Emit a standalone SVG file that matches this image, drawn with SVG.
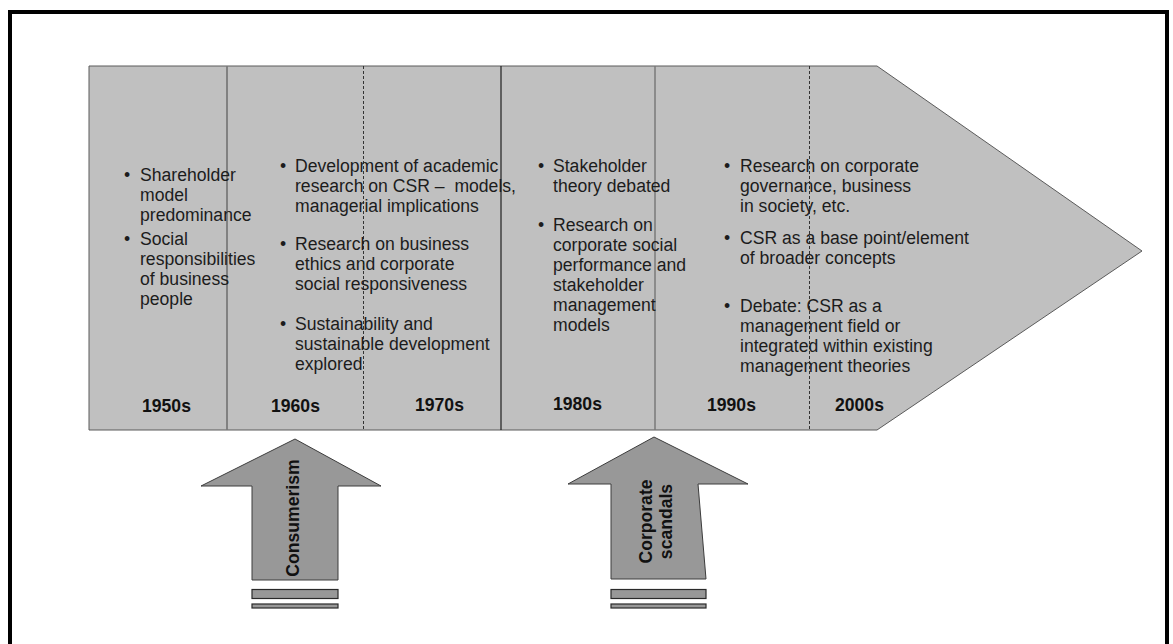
<svg xmlns="http://www.w3.org/2000/svg" width="1173" height="644" viewBox="0 0 1173 644">
<style>
.t{font-family:"Liberation Sans",Arial,sans-serif;font-size:17.6px;fill:#1c1c1c;white-space:pre}
.b{font-family:"Liberation Sans",Arial,sans-serif;font-size:17.6px;font-weight:bold;fill:#111}
.bul{text-anchor:middle}
.arrow{fill:#989898;stroke:#3c3c3c;stroke-width:1}
.bar{fill:#989898;stroke:#2a2a2a;stroke-width:1.2}
.vl{fill:none}
</style>
<rect width="1173" height="644" fill="#fff"/>
<rect x="10" y="12" width="1157" height="660" fill="none" stroke="#000" stroke-width="4"/>

<g id="timeline">
<path d="M89,66 L877,66 L1142,251 L877,430 L89,430 Z" fill="#c0c0c0" stroke="#5a5a5a" stroke-width="1"/>
</g>

<g id="connectors">
<line x1="227" y1="66" x2="227" y2="430" stroke="#7a7a7a" stroke-width="1.8"/>
<line x1="363.5" y1="66" x2="363.5" y2="430" stroke="#333" stroke-width="1" stroke-dasharray="3,2"/>
<line x1="501" y1="66" x2="501" y2="430" stroke="#1e1e1e" stroke-width="1.2"/>
<line x1="655" y1="66" x2="655" y2="430" stroke="#7a7a7a" stroke-width="1.5"/>
<line x1="809.5" y1="66" x2="809.5" y2="430" stroke="#333" stroke-width="1" stroke-dasharray="3,2"/>
</g>

<g id="col1950">
<text class="t bul" x="127" y="181">•</text>
<text class="t" x="140" y="181">Shareholder</text>
<text class="t" x="140" y="201">model</text>
<text class="t" x="140" y="221">predominance</text>
<text class="t bul" x="127" y="245">•</text>
<text class="t" x="140" y="245">Social</text>
<text class="t" x="140" y="265">responsibilities</text>
<text class="t" x="140" y="285">of business</text>
<text class="t" x="140" y="305">people</text>
<text class="b" x="142" y="412">1950s</text>
</g>

<g id="col1960">
<text class="t bul" x="283" y="172">•</text>
<text class="t" x="295" y="172">Development of academic</text>
<text class="t" x="295" y="192">research on CSR –  models,</text>
<text class="t" x="295" y="212">managerial implications</text>
<text class="t bul" x="283" y="250">•</text>
<text class="t" x="295" y="250">Research on business</text>
<text class="t" x="295" y="270">ethics and corporate</text>
<text class="t" x="295" y="290">social responsiveness</text>
<text class="t bul" x="283" y="330">•</text>
<text class="t" x="295" y="330">Sustainability and</text>
<text class="t" x="295" y="350">sustainable development</text>
<text class="t" x="295" y="370">explored</text>
<text class="b" x="271" y="412">1960s</text>
<text class="b" x="415" y="411">1970s</text>
</g>

<g id="col1980">
<text class="t bul" x="541" y="172">•</text>
<text class="t" x="553" y="172">Stakeholder</text>
<text class="t" x="553" y="192">theory debated</text>
<text class="t bul" x="541" y="231">•</text>
<text class="t" x="553" y="231">Research on</text>
<text class="t" x="553" y="251">corporate social</text>
<text class="t" x="553" y="271">performance and</text>
<text class="t" x="553" y="291">stakeholder</text>
<text class="t" x="553" y="311">management</text>
<text class="t" x="553" y="331">models</text>
<text class="b" x="553" y="410">1980s</text>
</g>

<g id="col1990">
<text class="t bul" x="727" y="172">•</text>
<text class="t" x="740" y="172">Research on corporate</text>
<text class="t" x="740" y="192">governance, business</text>
<text class="t" x="740" y="212">in society, etc.</text>
<text class="t bul" x="727" y="243.5">•</text>
<text class="t" x="740" y="243.5">CSR as a base point/element</text>
<text class="t" x="740" y="263.5">of broader concepts</text>
<text class="t bul" x="727" y="312">•</text>
<text class="t" x="740" y="312">Debate: CSR as a</text>
<text class="t" x="740" y="332">management field or</text>
<text class="t" x="740" y="352">integrated within existing</text>
<text class="t" x="740" y="372">management theories</text>
<text class="b" x="707" y="411">1990s</text>
<text class="b" x="835" y="411">2000s</text>
</g>

<g id="consumerism">
<polygon class="arrow" points="295,439 381,486 338,486 338,580 252,580 252,486 201,486"/>
<text class="b" text-anchor="middle" transform="translate(299,518) rotate(-90)">Consumerism</text>
<rect class="bar" x="252" y="589.5" width="86" height="9"/>
<rect class="bar" x="252" y="604" width="86" height="4"/>
</g>

<g id="scandals">
<polygon class="arrow" points="654,437 748,484 698,484 706,579 611,579 611,484 568,484"/>
<text class="b" text-anchor="middle" transform="translate(651.5,521.5) rotate(-90)">Corporate</text>
<text class="b" text-anchor="middle" transform="translate(671.5,521.5) rotate(-90)">scandals</text>
<rect class="bar" x="611" y="589.5" width="95" height="9"/>
<rect class="bar" x="611" y="604" width="95" height="4"/>
</g>
</svg>
